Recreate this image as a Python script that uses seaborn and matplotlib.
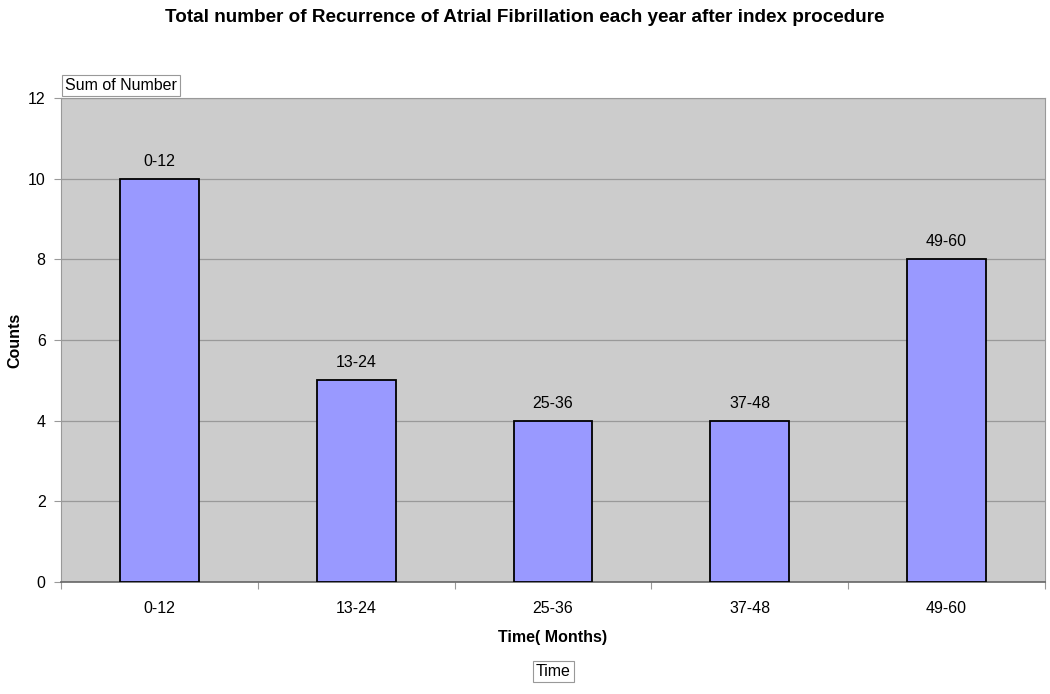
import pandas as pd
import seaborn as sns
import matplotlib.pyplot as plt

# data
time_bins = ['0-12', '13-24', '25-36', '37-48', '49-60']
counts = [10, 5, 4, 4, 8]

df = pd.DataFrame({'Time': time_bins, 'Counts': counts})

sns.set_style('white')
plt.rcParams['font.family'] = ['Liberation Sans', 'DejaVu Sans']
plt.rcParams['text.color'] = 'black'
plt.rcParams['axes.labelcolor'] = 'black'
plt.rcParams['xtick.labelcolor'] = 'black'
plt.rcParams['ytick.labelcolor'] = 'black'

fig = plt.figure(figsize=(10.5, 6.94), dpi=100)
ax = fig.add_axes([0.0581, 0.1614, 0.9371, 0.6974])
ax.set_facecolor('#CCCCCC')

sns.barplot(data=df, x='Time', y='Counts', color='#9999FF', width=0.40,
            edgecolor='black', linewidth=1.3, saturation=1, ax=ax, zorder=3)

# labels above bars
for i, (lab, v) in enumerate(zip(time_bins, counts)):
    ax.text(i, v + 0.25, lab, ha='center', va='bottom', fontsize=11.5)

ax.set_ylim(0, 12)
ax.set_xlim(-0.5, len(time_bins) - 0.5)
ax.set_yticks(range(0, 13, 2))
ax.yaxis.grid(True, color='#999999', linewidth=0.9, zorder=0)
ax.set_axisbelow(True)

# x ticks sit between the categories
ax.set_xticks([i + 0.5 for i in range(-1, len(time_bins))], minor=False)
ax.set_xticklabels([])
ax.set_xticks(range(len(time_bins)), minor=True)
ax.set_xticklabels(time_bins, minor=True, fontsize=11.5)
ax.tick_params(axis='x', which='major', length=5, color='#999999', direction='out', bottom=True)
ax.tick_params(axis='x', which='minor', length=0, pad=14)
ax.tick_params(axis='y', length=5, color='#999999', direction='out', left=True, labelsize=11.5, pad=6)

for s in ['left', 'bottom', 'right', 'top']:
    ax.spines[s].set_visible(True)
    ax.spines[s].set_color('#999999')
ax.spines['bottom'].set_color('#666666')
ax.spines['bottom'].set_linewidth(1.2)

ax.set_xlabel('Time( Months)', fontsize=11.5, fontweight='bold', labelpad=10)
ax.set_ylabel('Counts', fontsize=11.5, fontweight='bold')
ax.yaxis.set_label_coords(-0.039, 0.5)

fig.text(0.5, 0.975, 'Total number of Recurrence of Atrial Fibrillation each year after index procedure',
         ha='center', va='center', fontsize=13.6, fontweight='bold')

box = dict(boxstyle='square,pad=0.2', facecolor='white', edgecolor='#999999', linewidth=0.8)
fig.text(0.0619, 0.877, 'Sum of Number', ha='left', va='center', fontsize=11.5, bbox=box)
fig.text(0.527, 0.032, 'Time', ha='center', va='center', fontsize=11.5, bbox=box)

fig.savefig('out.png', dpi=100)
